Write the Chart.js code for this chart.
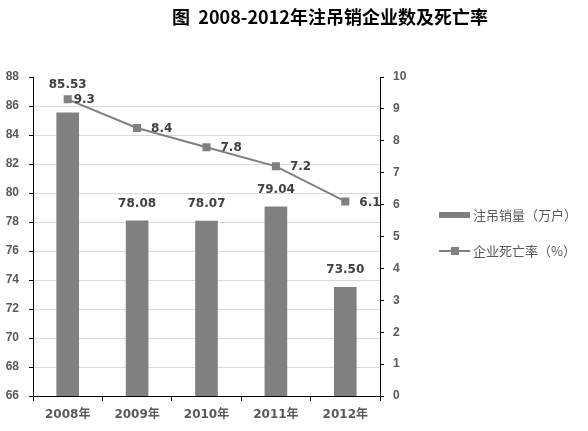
<!DOCTYPE html>
<html>
<head>
<meta charset="utf-8">
<script src="https://cdn.jsdelivr.net/npm/chart.js@4"></script>
<style>
  html, body { margin: 0; padding: 0; background: #fff; }
  #wrap { width: 588px; height: 431px; }
</style>
</head>
<body>
<div id="wrap"><canvas id="chart" width="588" height="431"></canvas></div>
<script>
const years = ['2008年', '2009年', '2010年', '2011年', '2012年'];
const cancelled = [85.53, 78.08, 78.07, 79.04, 73.50];   // 注吊销量（万户）
const deathRate = [9.3, 8.4, 7.8, 7.2, 6.1];             // 企业死亡率（%）
const leftTicks = [66, 68, 70, 72, 74, 76, 78, 80, 82, 84, 86, 88];
const rightTicks = [0, 1, 2, 3, 4, 5, 6, 7, 8, 9, 10];

const titleText = '图  2008-2012年注吊销企业数及死亡率';
const barName = '注吊销量（万户）';
const lineName = '企业死亡率（%）';

const grey = '#808080';
const textGrey = '#595959';
const labelGrey = '#404040';
const numFont = '"DejaVu Sans", "Noto Sans CJK SC", sans-serif';

// labels, title and legend drawn on the canvas
const decorations = {
  id: 'decorations',
  afterDatasetsDraw(chart) {
    const ctx = chart.ctx;
    ctx.save();

    // value labels on bars
    ctx.font = 'bold 12px ' + numFont;
    ctx.fillStyle = labelGrey;
    ctx.textAlign = 'center';
    ctx.textBaseline = 'middle';
    const barLift = [28, 17, 17, 17, 17];
    chart.getDatasetMeta(0).data.forEach((bar, i) => {
      ctx.fillText(cancelled[i].toFixed(2), bar.x, bar.y - barLift[i]);
    });

    // value labels on the line
    ctx.textAlign = 'left';
    const lineShift = [6, 14, 14, 14, 14];
    chart.getDatasetMeta(1).data.forEach((pt, i) => {
      ctx.fillText(deathRate[i].toFixed(1), pt.x + lineShift[i], pt.y + 1);
    });

    // title
    ctx.font = 'bold 18px "Noto Sans CJK SC", sans-serif';
    ctx.fillStyle = '#000';
    ctx.textAlign = 'center';
    ctx.fillText(titleText, 330, 17);

    // legend
    ctx.font = '13px "Noto Sans CJK SC", sans-serif';
    ctx.fillStyle = grey;
    ctx.fillRect(439, 212, 31, 6);
    ctx.strokeStyle = grey;
    ctx.lineWidth = 2;
    ctx.beginPath();
    ctx.moveTo(439, 251);
    ctx.lineTo(470, 251);
    ctx.stroke();
    ctx.fillRect(451, 247, 8, 8);
    ctx.fillStyle = textGrey;
    ctx.textAlign = 'left';
    ctx.fillText(barName, 473, 215);
    ctx.fillText(lineName, 473, 251);

    ctx.restore();
  }
};

new Chart(document.getElementById('chart').getContext('2d'), {
  type: 'bar',
  data: {
    labels: years,
    datasets: [
      {
        type: 'bar',
        label: barName,
        data: cancelled,
        backgroundColor: grey,
        barThickness: 22,
        yAxisID: 'y',
        order: 1
      },
      {
        type: 'line',
        label: lineName,
        data: deathRate,
        borderColor: grey,
        backgroundColor: grey,
        borderWidth: 2,
        pointStyle: 'rect',
        pointRadius: 5.7,
        pointBorderWidth: 0,
        yAxisID: 'y1',
        order: 0
      }
    ]
  },
  options: {
    responsive: false,
    animation: false,
    layout: { padding: { top: 77, right: 178, left: 0, bottom: 0 } },
    plugins: {
      legend: { display: false },
      title: { display: false },
      tooltip: { enabled: false }
    },
    scales: {
      x: {
        grid: { drawOnChartArea: false, drawTicks: true, tickLength: 5, tickColor: '#000', offset: true },
        border: { color: '#000', width: 1 },
        ticks: { color: textGrey, padding: 7, font: { family: numFont, size: 12, weight: 'bold' } },
        afterFit(scale) { scale.height = 35; }
      },
      y: {
        position: 'left',
        min: 66,
        max: 88,
        afterBuildTicks(scale) { scale.ticks = leftTicks.map(v => ({ value: v })); },
        grid: {
          color: c => (c.tick && c.tick.value === 88 ? 'rgba(0,0,0,0)' : '#d9d9d9'),
          tickColor: '#000',
          tickLength: 4
        },
        border: { color: '#000', width: 1 },
        ticks: { color: textGrey, padding: 10, font: { family: '"Liberation Sans", sans-serif', size: 12, weight: 'bold' } },
        afterFit(scale) { scale.width = 33; }
      },
      y1: {
        position: 'right',
        min: 0,
        max: 10,
        afterBuildTicks(scale) { scale.ticks = rightTicks.map(v => ({ value: v })); },
        grid: { drawOnChartArea: false, tickColor: '#000', tickLength: 4 },
        border: { color: '#000', width: 1 },
        ticks: { color: textGrey, padding: 9, font: { family: '"Liberation Sans", sans-serif', size: 12, weight: 'bold' } },
        afterFit(scale) { scale.width = 30; }
      }
    }
  },
  plugins: [decorations]
});
</script>
</body>
</html>
